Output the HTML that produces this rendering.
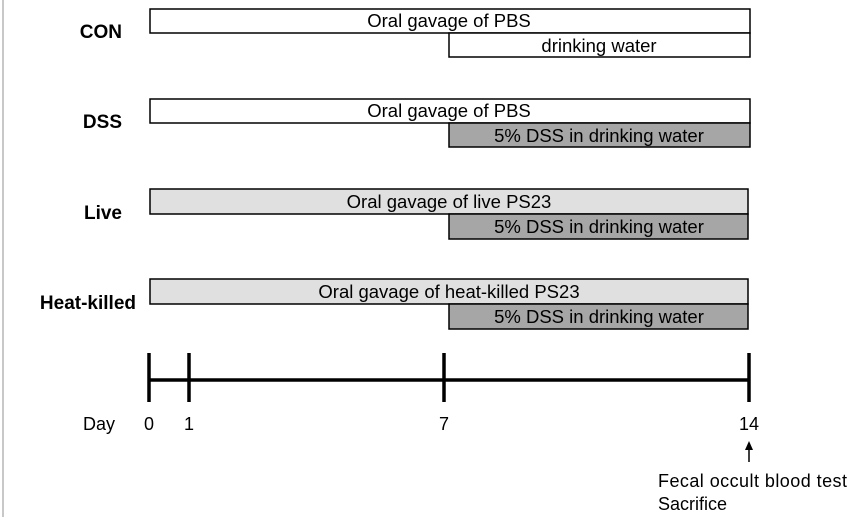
<!DOCTYPE html>
<html><head><style>
html,body{margin:0;padding:0;background:#fff;}
svg{display:block;}
text{font-family:"Liberation Sans",sans-serif;}
</style></head><body>
<svg width="852" height="517" viewBox="0 0 852 517" xmlns="http://www.w3.org/2000/svg">
<line x1="3" y1="0" x2="3" y2="517" stroke="#c8c8c8" stroke-width="2"/>
<g font-weight="bold" font-size="19" text-anchor="end" fill="#000">
<text x="122" y="38">CON</text>
<text x="122" y="128">DSS</text>
<text x="122" y="219">Live</text>
<text x="136" y="309">Heat-killed</text>
</g>
<g stroke="#000" stroke-width="1.5">
<rect x="150" y="9" width="600" height="24" fill="#fff"/>
<rect x="449" y="33" width="301" height="24" fill="#fff"/>
<rect x="150" y="99" width="600" height="24" fill="#fff"/>
<rect x="449" y="123" width="301" height="24" fill="#a6a6a6"/>
<rect x="150" y="189" width="598" height="25" fill="#e0e0e0"/>
<rect x="449" y="214" width="299" height="25" fill="#a6a6a6"/>
<rect x="150" y="279" width="598" height="25" fill="#e0e0e0"/>
<rect x="449" y="304" width="299" height="25" fill="#a6a6a6"/>
</g>
<g font-size="18.5" text-anchor="middle" fill="#000">
<text x="449" y="27">Oral gavage of PBS</text>
<text x="599" y="52">drinking water</text>
<text x="449" y="117">Oral gavage of PBS</text>
<text x="599" y="142">5% DSS in drinking water</text>
<text x="449" y="208">Oral gavage of live PS23</text>
<text x="599" y="233">5% DSS in drinking water</text>
<text x="449" y="298">Oral gavage of heat-killed PS23</text>
<text x="599" y="323">5% DSS in drinking water</text>
</g>
<g stroke="#000" stroke-width="3.5">
<line x1="149" y1="380" x2="749" y2="380"/>
<line x1="149" y1="353" x2="149" y2="402"/>
<line x1="189" y1="353" x2="189" y2="402"/>
<line x1="444" y1="353" x2="444" y2="402"/>
<line x1="749" y1="353" x2="749" y2="402"/>
</g>
<g font-size="18" fill="#000">
<text x="83" y="430">Day</text>
<text x="149" y="430" text-anchor="middle">0</text>
<text x="189" y="430" text-anchor="middle">1</text>
<text x="444" y="430" text-anchor="middle">7</text>
<text x="749" y="430" text-anchor="middle">14</text>
<text x="658" y="487" textLength="189">Fecal occult blood test</text>
<text x="658" y="510">Sacrifice</text>
</g>
<line x1="749" y1="462" x2="749" y2="447" stroke="#000" stroke-width="1.5"/>
<polygon points="749,441 745,450 753,450" fill="#000"/>
</svg>
</body></html>
